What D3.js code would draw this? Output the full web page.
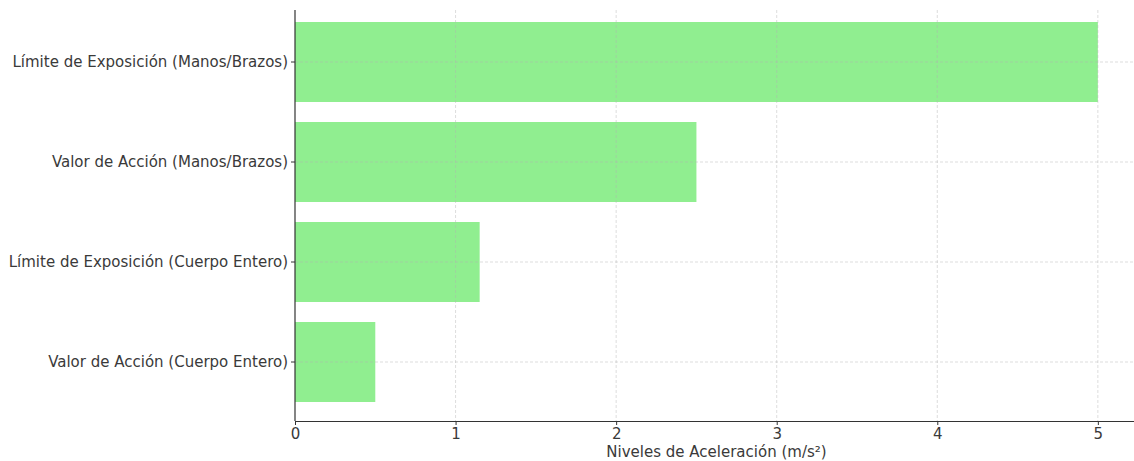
<!DOCTYPE html>
<html>
<head>
<meta charset="utf-8">
<script src="https://cdn.jsdelivr.net/npm/d3@7"></script>
<style>
  html, body { margin: 0; padding: 0; background: #fff; }
  svg { display: block; }
  text { font-family: "DejaVu Sans", sans-serif; fill: #3a3a3a; }
</style>
</head>
<body>
<svg id="chart" width="1134" height="461"></svg>
<script>
// Vibration exposure thresholds (m/s²), listed top to bottom
const categories = [
  "Límite de Exposición (Manos/Brazos)",
  "Valor de Acción (Manos/Brazos)",
  "Límite de Exposición (Cuerpo Entero)",
  "Valor de Acción (Cuerpo Entero)"
];
const values = [5, 2.5, 1.15, 0.5];
const xTicks = [0, 1, 2, 3, 4, 5];
const xLabel = "Niveles de Aceleración (m/s²)";

const svg = d3.select("#chart");
const mLeft = 295, mRight = 1138, mTop = 3, mBottom = 421, plotTop = 10;
const fontSize = 15;

const x = d3.scaleLinear().domain([0, 5.25]).range([mLeft, mRight]);
const y = d3.scaleBand().domain(categories).range([mTop, mBottom])
  .paddingInner(0.2).paddingOuter(0.19);

// bars
svg.append("g").selectAll("rect").data(values).join("rect")
  .attr("x", x(0))
  .attr("y", (d, i) => y(categories[i]))
  .attr("width", d => x(d) - x(0))
  .attr("height", y.bandwidth())
  .attr("fill", "#90ee90");

// dashed grid on top of bars
const grid = svg.append("g")
  .attr("stroke", "#b0b0b0").attr("stroke-opacity", 0.55)
  .attr("stroke-dasharray", "3,2").attr("stroke-width", 0.8);
grid.selectAll("line.v").data(xTicks.slice(1)).join("line").attr("class", "v")
  .attr("x1", d => x(d)).attr("x2", d => x(d))
  .attr("y1", plotTop).attr("y2", mBottom);
grid.selectAll("line.h").data(categories).join("line").attr("class", "h")
  .attr("x1", mLeft).attr("x2", mRight)
  .attr("y1", d => y(d) + y.bandwidth() / 2).attr("y2", d => y(d) + y.bandwidth() / 2);

// x axis
const xAxis = svg.append("g").attr("transform", `translate(0,${mBottom})`)
  .call(d3.axisBottom(x).tickValues(xTicks).tickFormat(d3.format("d")).tickSize(4).tickPadding(3).tickSizeOuter(0));
xAxis.select(".domain").attr("stroke", "#333").attr("stroke-width", 1.2);
xAxis.selectAll(".tick line").attr("stroke", "#333");
xAxis.selectAll(".tick text").attr("font-size", fontSize).attr("fill", "#3a3a3a")
  .style("font-family", "DejaVu Sans");

// y axis
const yAxis = svg.append("g").attr("transform", `translate(${mLeft},0)`)
  .call(d3.axisLeft(y).tickSize(4).tickPadding(3).tickSizeOuter(0));
yAxis.select(".domain").remove();
yAxis.selectAll(".tick line").attr("stroke", "#333");
yAxis.selectAll(".tick text").attr("font-size", fontSize).attr("fill", "#3a3a3a")
  .style("font-family", "DejaVu Sans");
svg.append("line").attr("x1", mLeft).attr("x2", mLeft)
  .attr("y1", plotTop).attr("y2", mBottom)
  .attr("stroke", "#333").attr("stroke-width", 1.2);

// axis title
svg.append("text").attr("x", (mLeft + mRight) / 2).attr("y", 457)
  .attr("text-anchor", "middle").attr("font-size", fontSize).text(xLabel);
</script>
</body>
</html>
